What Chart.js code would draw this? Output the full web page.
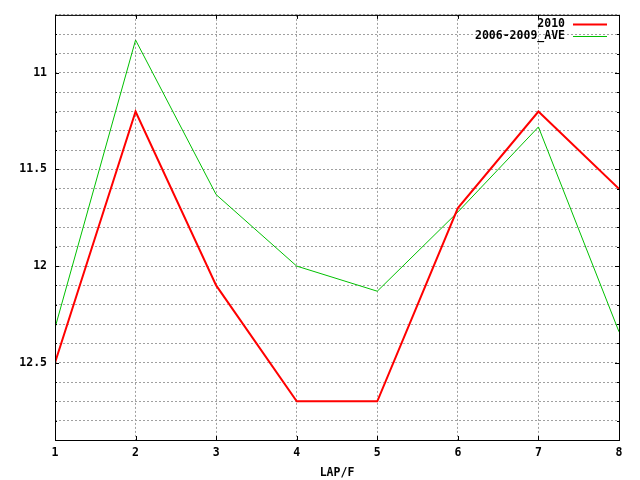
<!DOCTYPE html>
<html>
<head>
<meta charset="utf-8">
<script src="https://cdn.jsdelivr.net/npm/chart.js@4/dist/chart.umd.min.js"></script>
<style>
html,body{margin:0;padding:0;background:#fff;}
#c{display:block;}
</style>
</head>
<body>
<canvas id="c" width="640" height="480"></canvas>
<script>
// ---- data ----
const laps = [1, 2, 3, 4, 5, 6, 7, 8];
const series2010 = [12.5, 11.2, 12.1, 12.7, 12.7, 11.7, 11.2, 11.6];
const seriesAve = [12.32, 10.83, 11.63, 12.0, 12.13, 11.72, 11.28, 12.34];
const seriesNames = ['2010', '2006-2009_AVE'];
const xTitle = 'LAP/F';

const FONT = "'DejaVu Sans Mono', 'Liberation Mono', monospace";
Chart.defaults.font.family = FONT;
Chart.defaults.font.weight = 'bold';
Chart.defaults.font.size = 11.5;
Chart.defaults.color = '#000';

const isMajor = v => Math.abs(v * 2 - Math.round(v * 2)) < 1e-6;

const frame = {
  id: 'frame',
  afterDraw(chart) {
    const {ctx, chartArea: a, scales} = chart;
    ctx.save();
    ctx.strokeStyle = '#000';
    ctx.lineWidth = 1;
    // ticks
    ctx.beginPath();
    scales.y.ticks.forEach(t => {
      const p = Math.round(scales.y.getPixelForValue(t.value)) + 0.5;
      const len = isMajor(t.value) ? 4 : 2;
      ctx.moveTo(a.left, p); ctx.lineTo(a.left + len, p);
      ctx.moveTo(a.right, p); ctx.lineTo(a.right - len, p);
    });
    scales.x.ticks.forEach(t => {
      const p = Math.round(scales.x.getPixelForValue(t.value)) + 0.5;
      ctx.moveTo(p, a.bottom); ctx.lineTo(p, a.bottom - 4);
      ctx.moveTo(p, a.top); ctx.lineTo(p, a.top + 4);
    });
    ctx.stroke();
    ctx.strokeRect(a.left + 0.5, a.top + 0.5, a.right - a.left, a.bottom - a.top);
    // legend
    ctx.font = "bold 11.5px " + FONT;
    ctx.textAlign = 'right';
    ctx.textBaseline = 'middle';
    chart.data.datasets.forEach((ds, i) => {
      const y = 24 + i * 12;
      ctx.fillStyle = '#000';
      ctx.fillText(ds.label, 565, y);
      ctx.strokeStyle = ds.borderColor;
      ctx.lineWidth = ds.borderWidth;
      ctx.beginPath();
      ctx.moveTo(573, y + 0.5);
      ctx.lineTo(607, y + 0.5);
      ctx.stroke();
    });
    ctx.restore();
  }
};

new Chart(document.getElementById('c'), {
  type: 'line',
  data: {
    datasets: [
      {
        label: seriesNames[0],
        data: laps.map((x, i) => ({x, y: series2010[i]})),
        borderColor: '#ff0000',
        borderWidth: 2,
        pointRadius: 0,
        tension: 0,
        fill: false
      },
      {
        label: seriesNames[1],
        data: laps.map((x, i) => ({x, y: seriesAve[i]})),
        borderColor: '#00c000',
        borderWidth: 1,
        pointRadius: 0,
        tension: 0,
        fill: false
      }
    ]
  },
  options: {
    responsive: false,
    animation: false,
    devicePixelRatio: 1,
    layout: {padding: {left: 0, right: 21, top: 13, bottom: 0}},
    plugins: {legend: {display: false}, tooltip: {enabled: false}},
    scales: {
      x: {
        type: 'linear',
        min: 1, max: 8,
        ticks: {stepSize: 1, padding: 6, maxRotation: 0, autoSkip: false},
        grid: {color: '#a0a0a0', lineWidth: 1, drawTicks: false, tickLength: 0},
        border: {display: false, dash: [2, 2], dashOffset: 0},
        title: {display: true, text: xTitle, padding: {top: 6, bottom: 0}},
        afterFit(s) { s.height = 40; }
      },
      y: {
        type: 'linear',
        reverse: true,
        min: 10.7, max: 12.9,
        ticks: {
          stepSize: 0.1, padding: 8, autoSkip: false,
          callback: v => isMajor(v) ? String(Math.round(v * 10) / 10) : ''
        },
        grid: {color: '#a0a0a0', lineWidth: 1, drawTicks: false, tickLength: 0},
        border: {display: false, dash: [2, 2], dashOffset: 0},
        afterFit(s) { s.width = 55; }
      }
    }
  },
  plugins: [frame]
});
</script>
</body>
</html>
